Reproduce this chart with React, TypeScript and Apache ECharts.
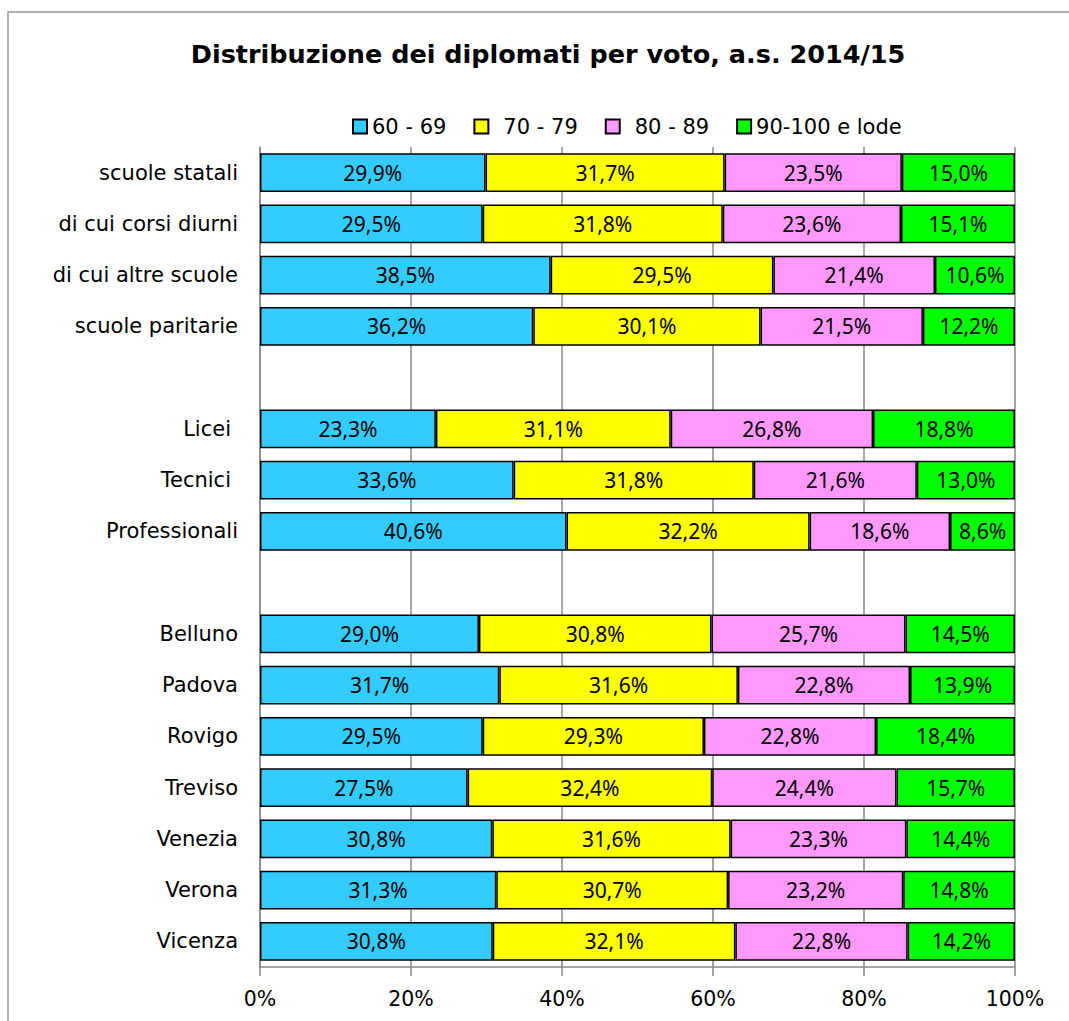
import React, { useEffect, useRef } from "react";
import * as echarts from "echarts";

const categories = [
  "scuole statali",
  "di cui corsi diurni",
  "di cui altre scuole",
  "scuole paritarie",
  "",
  "Licei ",
  "Tecnici ",
  "Professionali",
  " ",
  "Belluno",
  "Padova",
  "Rovigo",
  "Treviso",
  "Venezia",
  "Verona",
  "Vicenza",
];

const seriesNames = ["60 - 69", " 70 - 79", " 80 - 89", "90-100 e lode"];
const seriesColors = ["#33CCFF", "#FFFF00", "#FF99FF", "#00FF00"];

const v60: (number | null)[] = [29.9, 29.5, 38.5, 36.2, null, 23.3, 33.6, 40.6, null, 29.0, 31.7, 29.5, 27.5, 30.8, 31.3, 30.8];
const v70: (number | null)[] = [31.7, 31.8, 29.5, 30.1, null, 31.1, 31.8, 32.2, null, 30.8, 31.6, 29.3, 32.4, 31.6, 30.7, 32.1];
const v80: (number | null)[] = [23.5, 23.6, 21.4, 21.5, null, 26.8, 21.6, 18.6, null, 25.7, 22.8, 22.8, 24.4, 23.3, 23.2, 22.8];
const v90: (number | null)[] = [15.0, 15.1, 10.6, 12.2, null, 18.8, 13.0, 8.6, null, 14.5, 13.9, 18.4, 15.7, 14.4, 14.8, 14.2];

const xTicks = ["0%", "20%", "40%", "60%", "80%", "100%"];

const FONT = "DejaVu Sans";
const LABEL_FONT = "Noto Sans";

export default function App() {
  const ref = useRef<HTMLDivElement>(null);
  useEffect(() => {
    document.body.style.margin = "0";
    if (!ref.current) return;
    const chart = echarts.init(ref.current, null, { renderer: "svg" });
    const raw = [v60, v70, v80, v90];
    const sums = categories.map((_, i) => {
      let s = 0;
      raw.forEach((arr) => {
        const v = arr[i];
        if (v != null) s += v;
      });
      return s;
    });
    const series = raw.map((arr, si) => ({
      name: seriesNames[si],
      type: "bar",
      stack: "total",
      barCategoryGap: "24%",
      itemStyle: { color: seriesColors[si], borderColor: "#000", borderWidth: 1.5 },
      label: {
        show: true,
        position: "inside",
        color: "#000",
        fontFamily: LABEL_FONT,
        fontSize: 21,
        formatter: (p: any) => {
          const rv = arr[p.dataIndex];
          return rv == null ? "" : rv.toFixed(1).replace(".", ",") + "%";
        },
      },
      data: arr.map((v, i) => (v == null ? null : (v / sums[i]) * 100)),
    }));
    chart.setOption({
      animation: false,
      backgroundColor: "#fff",
      title: {
        text: "Distribuzione dei diplomati per voto, a.s. 2014/15",
        left: 543,
        textAlign: "center",
        top: 36,
        textStyle: { fontFamily: FONT, fontWeight: "bold", fontSize: 25.5, color: "#000" },
      },
      legend: {
        left: 347,
        top: 111,
        itemWidth: 14,
        itemHeight: 14,
        itemGap: 27,
        icon: "rect",
        textStyle: {
          fontFamily: FONT,
          fontSize: 21,
          color: "#000",
          rich: { s: { width: 10 } },
        },
        formatter: (name: string) => (name.startsWith(" ") ? "{s|}" + name.trim() : name),
        data: seriesNames,
      },
      grid: { left: 260, right: 54, top: 147, bottom: 54, containLabel: false },
      xAxis: {
        type: "value",
        min: 0,
        max: 100,
        interval: 20,
        axisLine: { show: true, lineStyle: { color: "#888", width: 1.5 } },
        axisTick: { show: true, length: 9, lineStyle: { color: "#888", width: 1.5 } },
        splitLine: { show: true, lineStyle: { color: "#888", width: 1.5 } },
        axisLabel: {
          fontFamily: FONT,
          fontSize: 20.5,
          color: "#000",
          margin: 21,
          formatter: (v: number) => xTicks[Math.round(v / 20)],
        },
      },
      yAxis: {
        type: "category",
        inverse: true,
        data: categories,
        axisLine: { show: true, lineStyle: { color: "#888", width: 1.5 } },
        axisTick: { show: false },
        axisLabel: {
          fontFamily: FONT,
          fontSize: 21,
          color: "#000",
          margin: 22,
          rich: { s: { width: 7 } },
          formatter: (v: string) => (v.endsWith(" ") ? v.trim() + "{s|}" : v),
        },
      },
      graphic: [
        {
          type: "rect",
          shape: { x: 8, y: 12, width: 1200, height: 1200 },
          style: { fill: "none", stroke: "#999", lineWidth: 1.5 },
          silent: true,
          z: -1,
        },
      ],
      series,
    });
    return () => chart.dispose();
  }, []);
  return <div ref={ref} style={{ width: 1069, height: 1021 }} />;
}
